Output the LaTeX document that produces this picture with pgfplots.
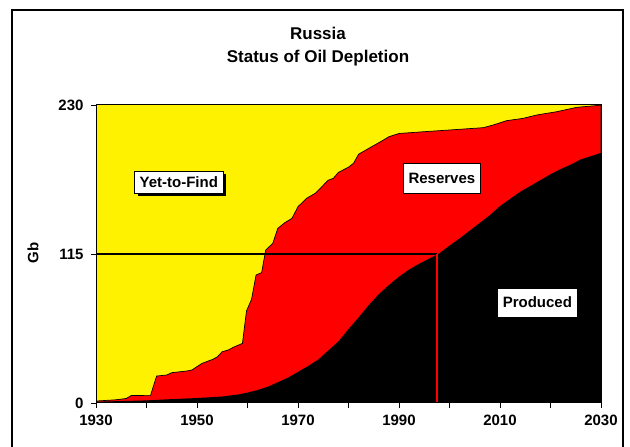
\documentclass[border=0pt]{standalone}
\usepackage{pgfplots}
\pgfplotsset{compat=1.18}
\usepackage{pgfplotstable}
\usepackage{fontspec}
\setmainfont{Liberation Sans}
\usetikzlibrary{shadows}

\pgfplotstableread{
year gb
1930 1.5
1934 2.5
1936 3.5
1937 5.8
1940.8 5.9
1942 20.8
1944 21.6
1945 23.4
1948 24.7
1949 25.5
1951 30.6
1953 33.5
1954 35.5
1955 39.6
1956.2 40.9
1957.2 43
1959 46
1959.8 71
1960.8 80
1961.7 98.8
1962.8 100.6
1963.6 118
1965 123.2
1966 134.8
1967.4 139.2
1968.8 142.5
1970 151.5
1971.7 158
1973.4 161.8
1974.4 165.7
1976 172
1977 173.4
1978 178
1980 182
1981 185
1982 192
1984 196.5
1986.5 202
1988 205.5
1990 208
1993.5 209
2000 210.7
2006.7 212.5
2008.7 214.6
2011.3 217.9
2014.6 219.7
2017.3 222.3
2021.2 224.8
2025.2 228.2
2029 229.5
2030 230
}\discovered

\pgfplotstableread{
year gb
1930 1
1940 2
1945 3
1950 3.8
1955 5
1958 6.5
1960 8
1962 10
1964 12.5
1966 16
1968 19.5
1970 24
1972 28.5
1974 33.5
1976 40.5
1978 47.5
1980 57
1982 66
1984 75.5
1986 84
1988 91
1990 97.5
1992 103
1994 107.5
1996 111.5
1998 115.5
2000 121.5
2002 127
2004 133
2006 139
2008 145
2010 152
2012 157.5
2014 163
2016 167.5
2018 172
2020 176.5
2022 180.5
2024 184
2026 188
2028 190.5
2030 193
}\produced

\begin{document}
\begin{tikzpicture}
\useasboundingbox (0pt,0pt) rectangle (630pt,447pt);
\draw[line width=1.2pt] (12pt,-5pt) -- (12pt,437pt) -- (623pt,437pt) -- (623pt,-5pt);
\node[font=\fontsize{17}{20}\selectfont\bfseries, anchor=base] at (318pt,407pt) {Russia};
\node[font=\fontsize{17}{20}\selectfont\bfseries, anchor=base] at (318pt,384pt) {Status of Oil Depletion};
\node[font=\fontsize{15}{18}\selectfont\bfseries, rotate=90] at (33pt,194pt) {Gb};
\begin{axis}[
  at={(96pt,44pt)}, anchor=south west,
  scale only axis, width=505pt, height=298pt,
  xmin=1930, xmax=2030, ymin=0, ymax=230,
  axis background/.style={fill=yellow},
  axis on top,
  axis line style={black, line width=1pt},
  tick pos=left, tick align=outside,
  major tick length=5pt,
  every tick/.style={black, line width=0.8pt},
  xtick={1930,1940,...,2030},
  xticklabels={1930,,1950,,1970,,1990,,2010,,2030},
  ytick={0,115,230},
  yticklabels={0,115,230},
  ticklabel style={font=\fontsize{15}{18}\selectfont\bfseries},
  xticklabel style={yshift=-3pt},
  yticklabel style={xshift=-4pt},
]
\addplot[fill=red, draw=black, line width=0.7pt] table[x=year,y=gb]{\discovered} \closedcycle;
\addplot[fill=black, draw=none] table[x=year,y=gb]{\produced} \closedcycle;
\addplot[black, line width=1.5pt] coordinates {(1930,115) (1997.5,115)};
\addplot[red, line width=1.3pt] coordinates {(1997.5,0) (1997.5,115)};
\node[fill=white, draw=black, line width=0.6pt, inner xsep=5pt, inner ysep=0pt, minimum height=22pt,
  font=\fontsize{15}{18}\selectfont\bfseries,
  drop shadow={fill=black, opacity=1, shadow xshift=3pt, shadow yshift=-3pt}]
  at (axis cs:1946.4,170.2) {Yet-to-Find};
\node[fill=white, draw=black, line width=0.6pt, inner xsep=5pt, inner ysep=0pt, minimum height=30pt,
  font=\fontsize{15}{18}\selectfont\bfseries]
  at (axis cs:1998.5,173.3) {Reserves};
\node[fill=white, draw=black, line width=0.6pt, inner xsep=5pt, inner ysep=0pt, minimum height=29pt,
  font=\fontsize{15}{18}\selectfont\bfseries]
  at (axis cs:2017.4,77.6) {Produced};
\end{axis}
\end{tikzpicture}
\end{document}
